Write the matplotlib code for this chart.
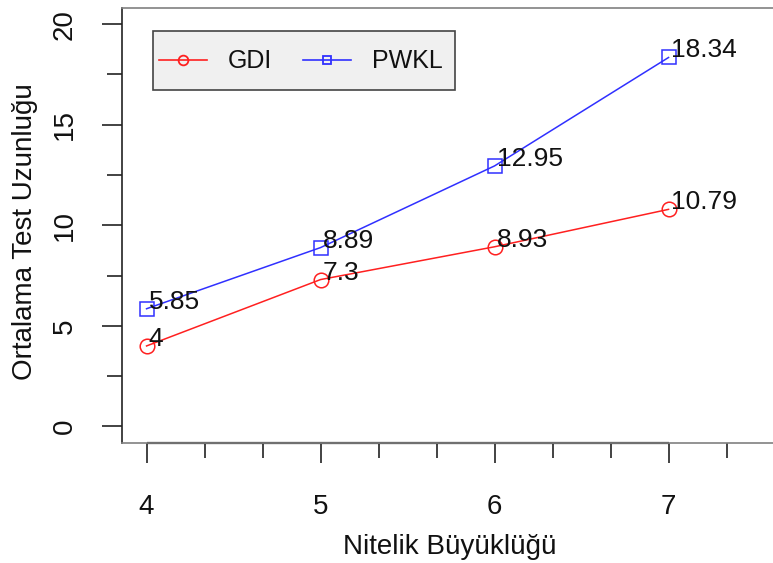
import matplotlib
matplotlib.use("Agg")
import matplotlib.pyplot as plt
from matplotlib.lines import Line2D
from matplotlib.patches import Rectangle
from matplotlib.ticker import FixedLocator

plt.rcParams['font.family'] = ['Liberation Sans', 'DejaVu Sans']

sizes = [4, 5, 6, 7]
gdi = [4, 7.3, 8.93, 10.79]
pwkl = [5.85, 8.89, 12.95, 18.34]
gdi_labels = ["4", "7.3", "8.93", "10.79"]
pwkl_labels = ["5.85", "8.89", "12.95", "18.34"]
x_major = [4, 5, 6, 7]
x_minor = [4 + i / 3 for i in range(11)]
y_major = [0, 5, 10, 15, 20]
y_minor = [2.5, 7.5, 12.5, 17.5]

W, H = 773, 563
fig = plt.figure(figsize=(W / 100, H / 100), dpi=100)
left, right, bottom, top = 121.5, 798, 442.5, 8
ax = fig.add_axes([left / W, 1 - bottom / H, (right - left) / W, (bottom - top) / H])
ax.set_xlim(3.856, 7.744)
ax.set_ylim(-0.8, 20.8)

red = '#ff2020'
blue = '#3030ff'
ax.plot(sizes, gdi, color=red, lw=1.1, marker='o', ms=10.5, mfc='none', mec=red, mew=1.1)
ax.plot(sizes, pwkl, color=blue, lw=1.1, marker='s', ms=9.5, mfc='none', mec=blue, mew=1.1)

fs = 19
afs = 20
for xv, yv, lab in zip(sizes, gdi, gdi_labels):
    ax.annotate(lab, (xv, yv), xytext=(2, 0), textcoords='offset pixels',
                ha='left', va='baseline', fontsize=fs, color='#111111')
for xv, yv, lab in zip(sizes, pwkl, pwkl_labels):
    ax.annotate(lab, (xv, yv), xytext=(2, 0), textcoords='offset pixels',
                ha='left', va='baseline', fontsize=fs, color='#111111')

for s in ax.spines.values():
    s.set_color('#808080')
    s.set_linewidth(1.2)
ax.spines['left'].set_color('#222222')

# axis line from first to last labelled tick
ax.plot([4, 7], [-0.8, -0.8], color='#222222', lw=1.6, clip_on=False, solid_capstyle='butt')

ax.xaxis.set_major_locator(FixedLocator(x_major))
ax.xaxis.set_minor_locator(FixedLocator([v for v in x_minor if all(abs(v - m) > 1e-6 for m in x_major)]))
ax.yaxis.set_major_locator(FixedLocator(y_major))
ax.yaxis.set_minor_locator(FixedLocator(y_minor))
ax.tick_params(axis='both', which='major', length=14.4, width=1.2, color='#222222',
               labelsize=afs, labelcolor='#111111')
ax.tick_params(axis='both', which='minor', length=10.5, width=1.2, color='#222222')
ax.tick_params(axis='x', which='major', pad=23)
ax.tick_params(axis='y', which='major', pad=17)
ax.set_xticklabels([str(v) for v in x_major])
ax.set_yticklabels([str(v) for v in y_major], rotation=90, va='center')

ax.set_xlabel("Nitelik Büyüklüğü", fontsize=afs, color='#111111')
ax.set_ylabel("Ortalama Test Uzunluğu", fontsize=afs, color='#111111')
ax.xaxis.set_label_coords((450 - left) / (right - left), -(534 - bottom) / (bottom - top))
ax.yaxis.set_label_coords(-(left - 38) / (right - left), (bottom - 232) / (bottom - top))

# legend
fig.patches.append(Rectangle((153 / W, 1 - 90 / H), (455 - 153) / W, (90 - 31) / H,
                             transform=fig.transFigure, facecolor='#f0f0f0',
                             edgecolor='#444444', linewidth=1.2, zorder=5))
handles = [Line2D([], [], color=red, lw=1.2, marker='o', ms=7, mfc='none', mew=1.3),
           Line2D([], [], color=blue, lw=1.2, marker='s', ms=6, mfc='none', mew=1.3)]
lfs = 18
leg = fig.legend(handles, ["GDI", "PWKL"], loc='center left',
                 bbox_to_anchor=(159 / W, 1 - 61.5 / H), bbox_transform=fig.transFigure,
                 ncol=2, fontsize=lfs, frameon=False, borderaxespad=0, borderpad=0,
                 handlelength=1.92, handletextpad=0.84, columnspacing=1.24)
leg.set_zorder(6)
for t in leg.get_texts():
    t.set_color('#111111')

fig.savefig("out.png", dpi=100)
